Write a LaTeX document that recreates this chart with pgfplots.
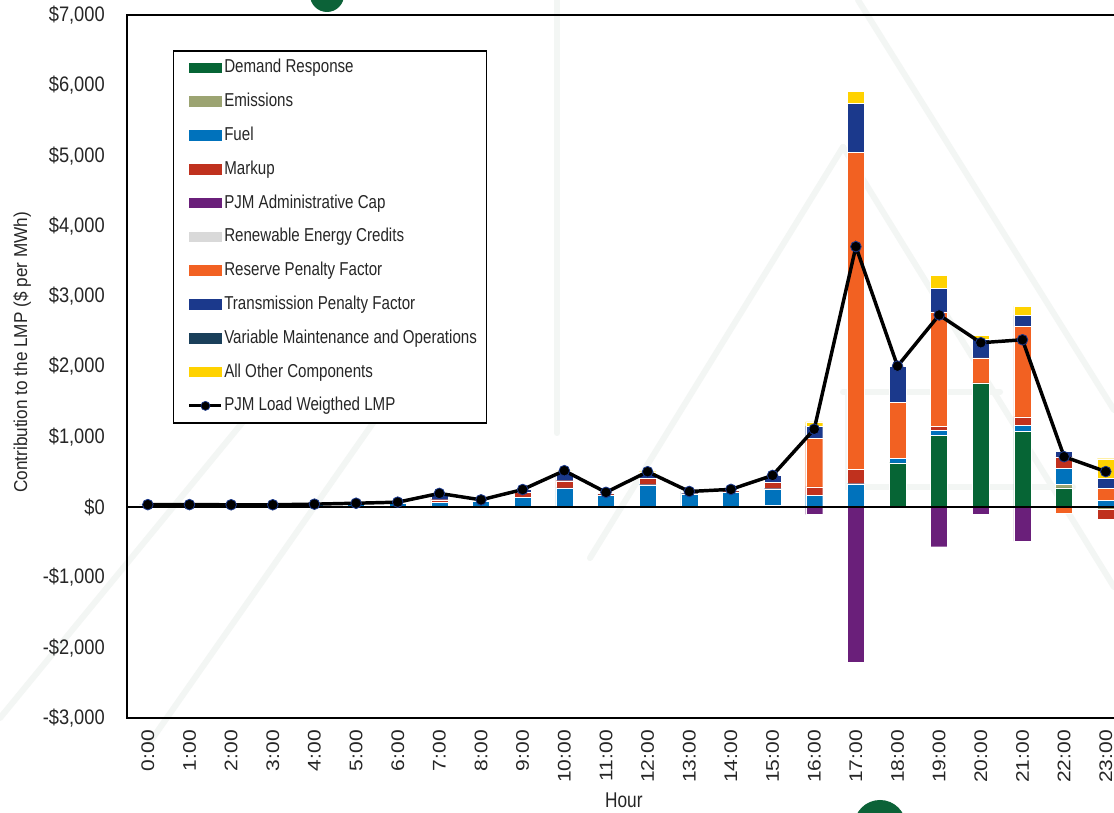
\documentclass[border=0pt]{standalone}
\usepackage{pgfplots}
\pgfplotsset{compat=1.18}
\usepackage{pgfplotstable}
\usepackage{fontspec}
\setmainfont{Liberation Sans}
\newfontfamily\tickfont[FakeStretch=0.87]{Liberation Sans}
\newfontfamily\narrowfont[FakeStretch=0.81]{Liberation Sans}
\newfontfamily\ylabfont[FakeStretch=0.92]{Liberation Sans}

\definecolor{cDR}{RGB}{6,101,53}
\definecolor{cEm}{RGB}{156,164,114}
\definecolor{cFuel}{RGB}{0,114,188}
\definecolor{cMk}{RGB}{192,49,30}
\definecolor{cCap}{RGB}{106,31,122}
\definecolor{cRec}{RGB}{217,217,217}
\definecolor{cRes}{RGB}{242,97,34}
\definecolor{cTx}{RGB}{27,57,140}
\definecolor{cVom}{RGB}{26,63,90}
\definecolor{cOth}{RGB}{255,210,0}
\definecolor{cLogo}{RGB}{12,98,56}
\definecolor{cMark}{RGB}{243,246,244}

% positive LMP components ($/MWh) by hour
\pgfplotstableread{
h dr em fuel mk cap rec res tx vom oth
0 0 0 30 5 0 0 0 0 0 0
1 0 0 30 5 0 0 0 0 0 0
2 0 0 28 5 0 0 0 0 0 0
3 0 0 28 5 0 0 0 0 0 0
4 0 0 36 6 0 0 0 0 0 0
5 0 0 47 8 0 0 0 0 0 0
6 0 0 58 12 0 0 0 0 0 0
7 0 0 65 40 0 0 0 70 0 20
8 0 0 85 10 0 0 0 8 0 0
9 0 0 140 70 0 0 0 40 0 0
10 0 0 275 100 0 0 0 120 0 20
11 0 0 175 25 0 0 0 10 0 0
12 0 0 318 90 0 0 0 60 0 35
13 0 0 190 22 0 0 0 10 0 0
14 0 0 215 25 0 0 0 12 0 0
15 0 24 237 95 0 0 0 95 0 0
16 0 0 171 118 0 0 687 175 0 62
17 0 0 332 204 0 0 4512 692 0 171
18 630 0 62 0 0 0 801 512 0 0
19 1024 0 66 62 0 0 1626 337 0 180
20 1768 0 0 0 0 0 356 261 0 57
21 1081 0 85 118 0 0 1285 161 0 128
22 275 52 228 161 0 0 0 81 0 0
23 0 0 95 0 0 0 171 142 0 280
}\postable

% negative LMP components ($/MWh) by hour
\pgfplotstableread{
h em mk cap res vom
0 0 0 0 0 0
1 0 0 0 0 0
2 0 0 0 0 0
3 0 0 0 0 0
4 0 0 0 0 0
5 0 0 0 0 0
6 0 0 0 0 0
7 0 0 0 0 0
8 0 0 0 0 0
9 0 0 0 0 0
10 0 0 0 0 0
11 0 0 0 0 0
12 0 0 0 0 0
13 0 0 0 0 0
14 0 0 0 0 0
15 0 0 0 0 0
16 0 0 -105 0 0
17 0 0 -2213 0 0
18 0 0 0 0 0
19 0 0 -564 0 0
20 0 0 -104 0 0
21 0 0 -483 0 0
22 0 0 0 -80 0
23 -33 -142 0 0 -12
}\negtable

% load weighted LMP ($/MWh)
\pgfplotstableread{
h lmp
0 35
1 35
2 33
3 33
4 42
5 55
6 70
7 195
8 103
9 250
10 518
11 210
12 503
13 222
14 252
15 451
16 1108
17 3705
18 2005
19 2733
20 2338
21 2380
22 717
23 505
}\lmptable

\pgfplotsset{
  frame/.style={
    at={(95.25pt,71.25pt)}, anchor=south west,
    scale only axis, width=749.7pt, height=527.25pt,
    xmin=-0.5, xmax=23.5, ymin=-3000, ymax=7000,
  },
  bars/.style={
    frame, hide axis, ybar stacked, bar width=12.75pt,
    every axis plot/.append style={draw=white, line width=0.3pt},
  },
  swatch/.style={legend image code/.code={
    \path (0pt,0pt);
    \fill[#1] (3.5pt,-3.4pt) rectangle (27.5pt,3.4pt);}},
}

\begin{document}
\begin{tikzpicture}
\path[use as bounding box] (0,0) rectangle (835.5pt,609.75pt);
\clip (0,0) rectangle (835.5pt,609.75pt);
\fill[white] (0,0) rectangle (835.5pt,609.75pt);
% faint background emblem and logo marks (drawn in pixel units from the top-left corner)
\begin{scope}[x=0.75pt, y=-0.75pt, yshift=609.75pt]
\begin{scope}[cMark, line width=4.5pt, line cap=round]
\draw (858,0) -- (1114,410);
\draw (843,147) -- (590,558);
\draw (843,147) -- (1114,587);
\draw (843,392) -- (1000,392);
\draw (848,392) -- (848,487) -- (1073,487);
\draw (557,0) -- (557,433);
\draw (343,300) -- (0,718);
\draw (459,300) -- (150,742);
\end{scope}
\fill[cLogo] (327,-5) circle (17);
\fill[cLogo] (880,826) circle (26);
\end{scope}

% positive stack
\begin{axis}[bars]
\addplot[fill=cDR] table[x=h,y=dr]{\postable};
\addplot[fill=cEm] table[x=h,y=em]{\postable};
\addplot[fill=cFuel] table[x=h,y=fuel]{\postable};
\addplot[fill=cMk] table[x=h,y=mk]{\postable};
\addplot[fill=cCap] table[x=h,y=cap]{\postable};
\addplot[fill=cRec] table[x=h,y=rec]{\postable};
\addplot[fill=cRes] table[x=h,y=res]{\postable};
\addplot[fill=cTx] table[x=h,y=tx]{\postable};
\addplot[fill=cVom] table[x=h,y=vom]{\postable};
\addplot[fill=cOth] table[x=h,y=oth]{\postable};
\end{axis}

% negative stack
\begin{axis}[bars]
\addplot[fill=cEm] table[x=h,y=em]{\negtable};
\addplot[fill=cMk] table[x=h,y=mk]{\negtable};
\addplot[fill=cCap] table[x=h,y=cap]{\negtable};
\addplot[fill=cRes] table[x=h,y=res]{\negtable};
\addplot[fill=cVom] table[x=h,y=vom]{\negtable};
\end{axis}

% axes, zero line, LMP line and legend
\begin{axis}[frame,
  axis line style={black, line width=1pt},
  tick style={draw=none},
  xtick={0,...,23},
  xticklabels={0:00,1:00,2:00,3:00,4:00,5:00,6:00,7:00,8:00,9:00,10:00,11:00,
    12:00,13:00,14:00,15:00,16:00,17:00,18:00,19:00,20:00,21:00,22:00,23:00},
  ytick={-3000,-2000,...,7000},
  yticklabels={{-\$3,000},{-\$2,000},{-\$1,000},{\$0},{\$1,000},{\$2,000},
    {\$3,000},{\$4,000},{\$5,000},{\$6,000},{\$7,000}},
  xticklabel style={font=\fontsize{15.75}{18}\selectfont, rotate=90, yscale=0.87,
    anchor=east, inner sep=0pt, text=black!85},
  xticklabel shift=9pt,
  yticklabel style={font=\tickfont\fontsize{15.75}{18}\selectfont, anchor=east,
    inner sep=0pt, text=black!85},
  yticklabel shift=16.5pt,
  extra y ticks={0}, extra y tick labels={},
  extra y tick style={grid=major, major grid style={black, line width=0.9pt}},
  xlabel={Hour},
  ylabel={Contribution to the LMP (\$ per MWh)},
  xlabel style={font=\narrowfont\fontsize{16}{18}\selectfont,
    at={(axis description cs:0.497,-0.1166)}, anchor=center, text=black!85},
  ylabel style={font=\ylabfont\fontsize{14}{16}\selectfont,
    at={(axis description cs:-0.105,0.52)}, anchor=center, text=black!85},
  legend cell align=left,
  legend style={at={(axis description cs:0.046,0.950)}, anchor=north west,
    draw=black, line width=1.1pt, fill=white,
    font=\narrowfont\fontsize{14}{16}\selectfont, text=black!85,
    inner xsep=7pt, inner ysep=6pt, row sep=11.85pt, column sep=1pt,
    nodes={inner sep=0pt, text height=10.5pt, text depth=3pt}},
]
\addlegendimage{swatch=cDR}\addlegendentry{Demand Response}
\addlegendimage{swatch=cEm}\addlegendentry{Emissions}
\addlegendimage{swatch=cFuel}\addlegendentry{Fuel}
\addlegendimage{swatch=cMk}\addlegendentry{Markup}
\addlegendimage{swatch=cCap}\addlegendentry{PJM Administrative Cap}
\addlegendimage{swatch=cRec}\addlegendentry{Renewable Energy Credits}
\addlegendimage{swatch=cRes}\addlegendentry{Reserve Penalty Factor}
\addlegendimage{swatch=cTx}\addlegendentry{Transmission Penalty Factor}
\addlegendimage{swatch=cVom}\addlegendentry{Variable Maintenance and Operations}
\addlegendimage{swatch=cOth}\addlegendentry{All Other Components}
\addplot[black, line width=2.6pt, mark=*, mark size=4pt,
  mark options={fill=black, draw=cTx, line width=0.6pt},
  legend image code/.code={
    \path (0pt,0pt);
    \draw[black, line width=2.2pt] (3.5pt,0pt) -- (27.5pt,0pt);
    \filldraw[fill=black, draw=cTx, line width=0.5pt] (15.5pt,0pt) circle (3.4pt);}]
  table[x=h,y=lmp]{\lmptable};
\addlegendentry{PJM Load Weigthed LMP}
\end{axis}
\end{tikzpicture}
\end{document}
